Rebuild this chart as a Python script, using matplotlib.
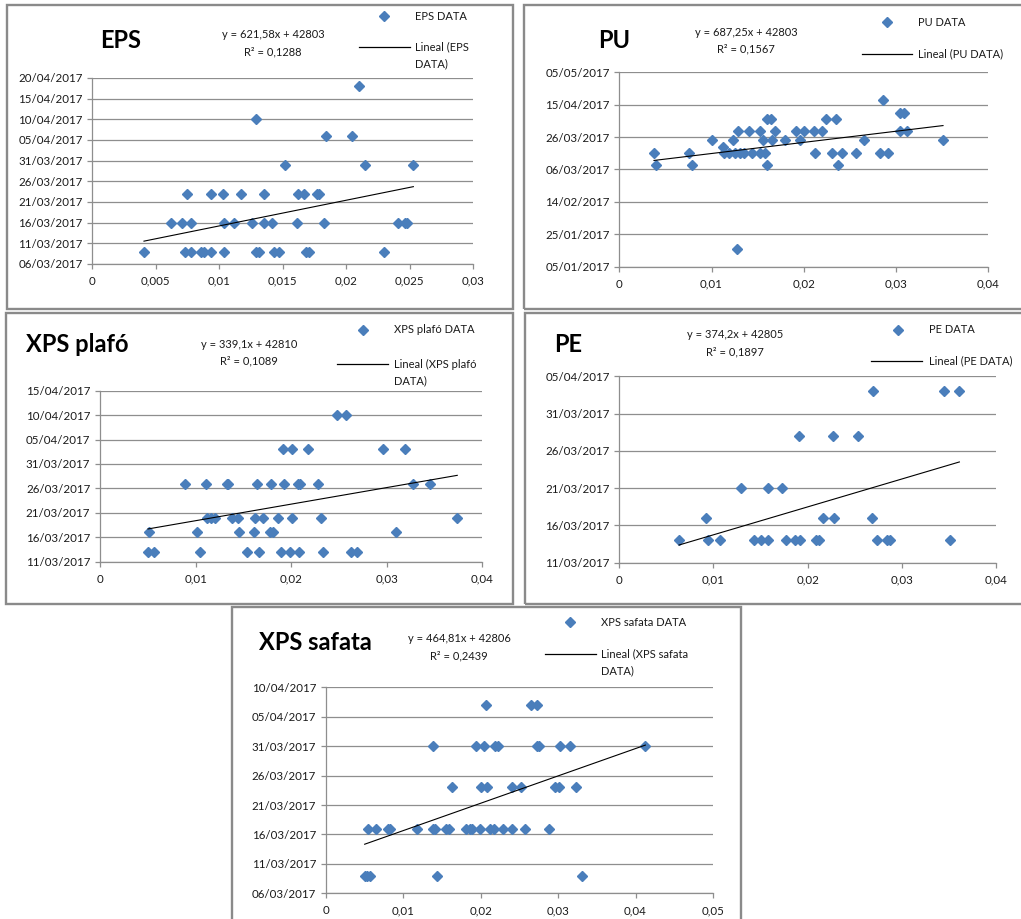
import matplotlib
matplotlib.use("Agg")
import matplotlib.pyplot as plt
from matplotlib.patches import Rectangle
from matplotlib.lines import Line2D
from matplotlib.ticker import FixedLocator, FuncFormatter
from datetime import datetime, timedelta
import numpy as np

plt.rcParams['font.family'] = ['Lato', 'DejaVu Sans']

# ------------------------------------------------------------------ data
eps_dates = ["09/03/2017", "16/03/2017", "23/03/2017", "30/03/2017",
             "06/04/2017", "10/04/2017", "18/04/2017"]
eps_x = [
    [0.00407, 0.0073, 0.00774, 0.00856, 0.00882, 0.00934, 0.01037, 0.01289,
     0.0131, 0.0143, 0.01472, 0.01682, 0.01706, 0.02297],
    [0.00622, 0.00703, 0.00774, 0.01037, 0.01118, 0.0126, 0.01354, 0.01412,
     0.01612, 0.01822, 0.02404, 0.02459, 0.0248],
    [0.00745, 0.00932, 0.01026, 0.01168, 0.01349, 0.01617, 0.01669, 0.01772, 0.01785],
    [0.0152, 0.02147, 0.02528],
    [0.01837, 0.02045],
    [0.01289],
    [0.02102],
]
eps_fit = (621.58, 42803)
eps_r2 = 0.1288

pu_dates = ["16/01/2017", "09/03/2017", "16/03/2017", "20/03/2017", "24/03/2017",
            "30/03/2017", "06/04/2017", "10/04/2017", "18/04/2017"]
pu_x = [
    [0.01279],
    [0.00401, 0.00791, 0.01601, 0.02374],
    [0.00376, 0.00752, 0.01135, 0.01192, 0.01254, 0.01308, 0.01351, 0.01435,
     0.01525, 0.01579, 0.02125, 0.02305, 0.0241, 0.02569, 0.02822, 0.02912],
    [0.01127],
    [0.01001, 0.01236, 0.01561, 0.01651, 0.01796, 0.01962, 0.02652, 0.03509],
    [0.0129, 0.01402, 0.01528, 0.01684, 0.01915, 0.02005, 0.0211, 0.02193,
     0.03046, 0.03118],
    [0.01601, 0.01644, 0.02237, 0.02349],
    [0.03042, 0.03089],
    [0.02862],
]
pu_fit = (687.25, 42803)
pu_r2 = 0.1567

plafo_dates = ["13/03/2017", "17/03/2017", "20/03/2017", "27/03/2017",
               "03/04/2017", "10/04/2017"]
plafo_x = [
    [0.00502, 0.00561, 0.01043, 0.01538, 0.0166, 0.0189, 0.01991, 0.02082,
     0.0233, 0.02622, 0.02685],
    [0.00509, 0.01018, 0.01458, 0.01608, 0.01782, 0.01813, 0.03097],
    [0.01116, 0.01165, 0.01203, 0.01378, 0.0144, 0.01622, 0.01705, 0.01859,
     0.02009, 0.02316, 0.03738],
    [0.00886, 0.01112, 0.01325, 0.01343, 0.01646, 0.01786, 0.01929, 0.02075,
     0.02096, 0.02277, 0.03271, 0.03449],
    [0.01911, 0.02012, 0.02173, 0.02961, 0.03187],
    [0.02476, 0.02574],
]
plafo_fit = (339.1, 42810)
plafo_r2 = 0.1089

pe_dates = ["14/03/2017", "17/03/2017", "21/03/2017", "28/03/2017", "03/04/2017"]
pe_x = [
    [0.00634, 0.00938, 0.01066, 0.01434, 0.01504, 0.01582, 0.0177, 0.01865,
     0.01919, 0.02088, 0.02124, 0.02736, 0.02839, 0.02878, 0.03512],
    [0.00924, 0.02166, 0.02276, 0.02683],
    [0.01296, 0.01579, 0.01727],
    [0.01904, 0.02273, 0.02531],
    [0.02694, 0.03448, 0.03611],
]
pe_fit = (374.2, 42805)
pe_r2 = 0.1897

safata_dates = ["09/03/2017", "17/03/2017", "24/03/2017", "31/03/2017", "07/04/2017"]
safata_x = [
    [0.00503, 0.00538, 0.00572, 0.01441, 0.03305],
    [0.00546, 0.00654, 0.00809, 0.00835, 0.01179, 0.01386, 0.01416, 0.01549,
     0.01596, 0.01812, 0.01859, 0.01889, 0.01997, 0.02126, 0.02169, 0.02285,
     0.0241, 0.02573, 0.02887],
    [0.01631, 0.02005, 0.02083, 0.02405, 0.02517, 0.02956, 0.03008, 0.03236],
    [0.01381, 0.01936, 0.02044, 0.0219, 0.02225, 0.02724, 0.02758, 0.03029,
     0.0315, 0.04127],
    [0.02074, 0.02651, 0.02724],
]
safata_fit = (464.81, 42806)
safata_r2 = 0.2439

# ------------------------------------------------------------------ layout
W, H = 1021, 919
BLUE = "#4a7ebb"
GRID = "#8e8e8e"
BORDER = "#8a8a8a"
TXT = "#1a1a1a"
TICK_FS = 8.3
SMALL_FS = 8.0

panels = [
    dict(name="EPS", dates=eps_dates, x=eps_x, fit=eps_fit, r2=eps_r2,
         box=(7, 5, 513, 309), ax=(92.3, 78, 473.3, 264),
         ylim=("06/03/2017", "20/04/2017"), ystep=5, xmax=0.03, xstep=0.005,
         title=(100, 41), eq=(273, 35), mk=(384, 16), tx=415,
         line=(359, 410, 47), wrap=True),
    dict(name="PU", dates=pu_dates, x=pu_x, fit=pu_fit, r2=pu_r2,
         box=(524, 5, 1030, 309), ax=(619.3, 72.3, 988.3, 266.7),
         ylim=("05/01/2017", "05/05/2017"), ystep=20, xmax=0.04, xstep=0.01,
         title=(598, 41), eq=(746, 32), mk=(887, 22), tx=918,
         line=(862, 912, 54), wrap=False),
    dict(name="XPS plafó", dates=plafo_dates, x=plafo_x, fit=plafo_fit, r2=plafo_r2,
         box=(6, 313, 513, 604), ax=(100, 390.7, 482.3, 561.7),
         ylim=("11/03/2017", "15/04/2017"), ystep=5, xmax=0.04, xstep=0.01,
         title=(26, 345), eq=(249, 344), mk=(363, 330), tx=394,
         line=(337, 388, 364), wrap=True),
    dict(name="PE", dates=pe_dates, x=pe_x, fit=pe_fit, r2=pe_r2,
         box=(525, 313, 1030, 604), ax=(619.3, 376.3, 996, 562.7),
         ylim=("11/03/2017", "05/04/2017"), ystep=5, xmax=0.04, xstep=0.01,
         title=(554, 345), eq=(735, 335), mk=(898, 330), tx=929,
         line=(871, 922, 361), wrap=False),
    dict(name="XPS safata", dates=safata_dates, x=safata_x, fit=safata_fit, r2=safata_r2,
         box=(232, 607, 741, 930), ax=(325.7, 687.3, 713, 893.3),
         ylim=("06/03/2017", "10/04/2017"), ystep=5, xmax=0.05, xstep=0.01,
         title=(259, 642), eq=(459, 639), mk=(570, 622), tx=601,
         line=(545, 596, 654), wrap=True),
]

EPOCH = datetime(1899, 12, 30)


def serial(d):
    return (datetime.strptime(d, "%d/%m/%Y") - EPOCH).days


def date_fmt(v, pos):
    return (EPOCH + timedelta(days=int(round(v)))).strftime("%d/%m/%Y")


def num_fmt(v, pos):
    s = f"{v:.3f}".rstrip("0").rstrip(".")
    return s.replace(".", ",")


def fx(x):
    return x / W


def fy(y):
    return 1 - y / H


fig = plt.figure(figsize=(W / 100, H / 100), dpi=100)
fig.patch.set_facecolor("white")

for p in panels:
    bx0, by0, bx1, by1 = p["box"]
    fig.patches.append(Rectangle((fx(bx0), fy(by1)), (bx1 - bx0) / W, (by1 - by0) / H,
                                 transform=fig.transFigure, fill=False,
                                 ec=BORDER, lw=1.7, zorder=0))
    a0, b0, a1, b1 = p["ax"]
    ax = fig.add_axes([fx(a0), fy(b1), (a1 - a0) / W, (b1 - b0) / H])

    xs, ys = [], []
    for d, row in zip(p["dates"], p["x"]):
        xs += row
        ys += [serial(d)] * len(row)
    ax.plot(xs, ys, ls="none", marker="D", ms=4.8, color=BLUE, mec=BLUE,
            zorder=3, clip_on=False)
    slope, icpt = p["fit"]
    xl = np.array([min(xs), max(xs)])
    ax.plot(xl, slope * xl + icpt, color="black", lw=0.8, zorder=4)

    ymin, ymax = serial(p["ylim"][0]), serial(p["ylim"][1])
    ax.set_ylim(ymin, ymax)
    ax.set_xlim(0, p["xmax"])
    ax.yaxis.set_major_locator(FixedLocator(np.arange(ymin, ymax + 0.5, p["ystep"])))
    ax.xaxis.set_major_locator(FixedLocator(np.arange(0, p["xmax"] + 1e-9, p["xstep"])))
    ax.yaxis.set_major_formatter(FuncFormatter(date_fmt))
    ax.xaxis.set_major_formatter(FuncFormatter(num_fmt))
    ax.yaxis.grid(True, color=GRID, lw=0.9)
    ax.set_axisbelow(True)
    for s in ("top", "right"):
        ax.spines[s].set_visible(False)
    for s in ("left", "bottom"):
        ax.spines[s].set_color(GRID)
        ax.spines[s].set_linewidth(0.9)
    ax.tick_params(axis="both", length=3.5, width=0.9, color=GRID,
                   labelsize=TICK_FS, labelcolor=TXT)
    ax.tick_params(axis="y", pad=3.5)
    ax.tick_params(axis="x", pad=5)

    # title
    tx, ty = p["title"]
    fig.text(fx(tx), fy(ty), p["name"], fontsize=17, fontweight="bold",
             ha="left", va="center", color="black")
    # equation
    ex, ey = p["eq"]
    eq1 = "y = " + f"{slope:g}".replace(".", ",") + "x + " + f"{icpt:g}"
    eq2 = "R² = " + f"{p['r2']:g}".replace(".", ",")
    fig.text(fx(ex), fy(ey), eq1, fontsize=SMALL_FS, ha="center", va="center", color=TXT)
    fig.text(fx(ex), fy(ey + 17), eq2, fontsize=SMALL_FS, ha="center", va="center", color=TXT)
    # legend
    mx, my = p["mk"]
    fig.add_artist(Line2D([fx(mx)], [fy(my)], marker="D", ms=4.8, color=BLUE,
                          ls="none", transform=fig.transFigure))
    fig.text(fx(p["tx"]), fy(my), p["name"] + " DATA", fontsize=SMALL_FS,
             ha="left", va="center", color=TXT)
    lx0, lx1, ly = p["line"]
    fig.add_artist(Line2D([fx(lx0), fx(lx1)], [fy(ly), fy(ly)], color="black",
                          lw=0.9, transform=fig.transFigure))
    label = "Lineal (" + p["name"] + " DATA)"
    if p["wrap"]:
        first, second = label.rsplit(" ", 1)
        fig.text(fx(p["tx"]), fy(ly), first, fontsize=SMALL_FS, ha="left", va="center", color=TXT)
        fig.text(fx(p["tx"]), fy(ly + 17), second, fontsize=SMALL_FS, ha="left", va="center", color=TXT)
    else:
        fig.text(fx(p["tx"]), fy(ly), label, fontsize=SMALL_FS, ha="left", va="center", color=TXT)

fig.savefig("out.png", dpi=100, facecolor="white")
